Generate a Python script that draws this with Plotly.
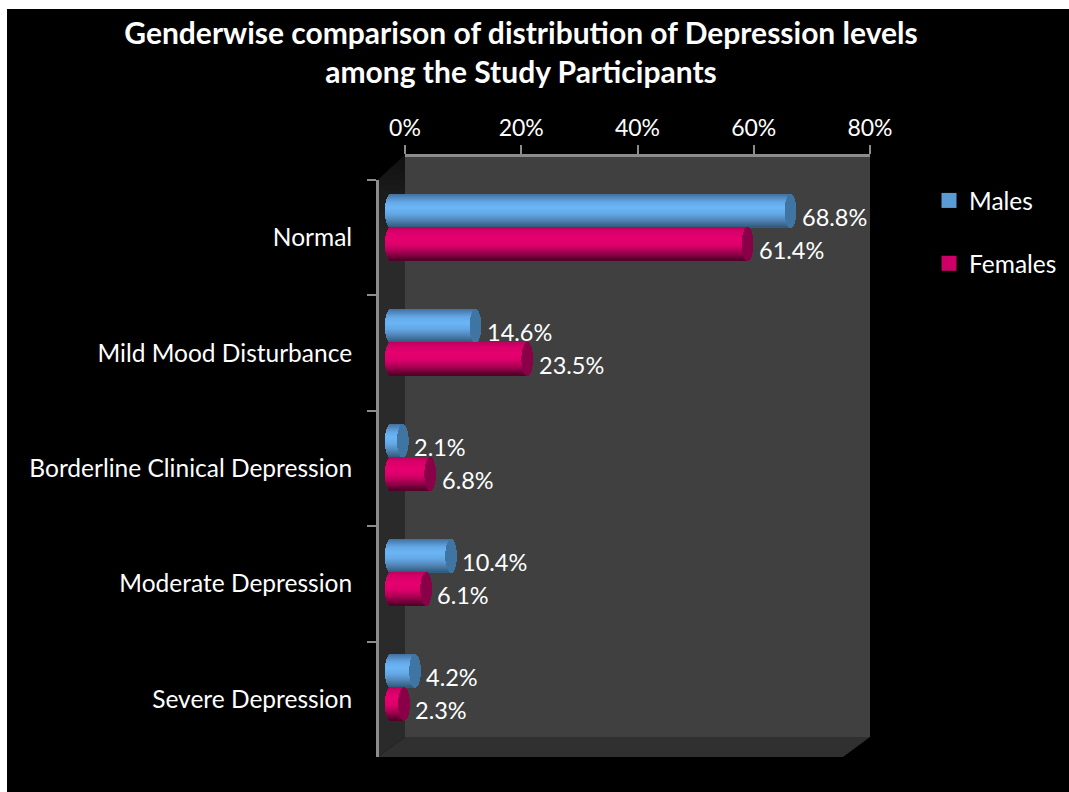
import plotly.graph_objects as go

W, H = 1069, 792

categories = ["Normal", "Mild Mood Disturbance", "Borderline Clinical Depression",
              "Moderate Depression", "Severe Depression"]
males = [68.8, 14.6, 2.1, 10.4, 4.2]
females = [61.4, 23.5, 6.8, 6.1, 2.3]
axis_ticks = [0, 20, 40, 60, 80]

FONT = "Lato"
GREY = "#8c8c8c"

# cylinder shading stops, top edge to bottom edge
male_stops = [(0.0, "#41719c"), (0.1, "#4f88bd"), (0.25, "#64a9e8"), (0.42, "#6cb5f5"),
              (0.6, "#64a8e6"), (0.78, "#5288bb"), (1.0, "#315a7c")]
female_stops = [(0.0, "#bb005c"), (0.12, "#d60069"), (0.35, "#e6006f"), (0.55, "#dc006b"),
                (0.75, "#a80052"), (0.9, "#74003a"), (1.0, "#4e0028")]
male_cap = "#3f75a3"
female_cap = "#8a0048"


def blend(stops, t):
    for (t0, c0), (t1, c1) in zip(stops, stops[1:]):
        if t <= t1:
            f = (t - t0) / (t1 - t0)
            rgb = [round(int(c0[i:i + 2], 16) * (1 - f) + int(c1[i:i + 2], 16) * f)
                   for i in (1, 3, 5)]
            return "rgb({},{},{})".format(*rgb)
    return stops[-1][1]


def px_x(p):
    return p / W


def px_y(p):
    return 1 - p / H


def poly(points, fill):
    d = "M" + " L".join(f"{px_x(x)},{px_y(y)}" for x, y in points) + " Z"
    return dict(type="path", xref="paper", yref="paper", path=d, fillcolor=fill,
                line_width=0, layer="below")


shapes = [
    # dark page area inside the white border
    dict(type="rect", xref="paper", yref="paper", x0=px_x(7), x1=1, y0=0, y1=px_y(9),
         fillcolor="#000000", line_width=0, layer="below"),
    # side wall, back wall and floor of the chart box
    poly([(378, 180), (405, 155), (405, 737), (378, 757)], "#2a2a2a"),
    poly([(405, 155), (870, 155), (870, 737), (405, 737)], "#404040"),
    poly([(405, 737), (870, 737), (843, 757), (378, 757)], "#303030"),
]


def wall_left(y):
    # left edge of the side wall, following its slanted top
    return 378 + max(0, 180 - y) * 27 / 25


# the side wall darkens towards its top edge
SHADE_TOP, SHADE_END, SHADE_STEP = 155, 240, 5
for y in range(SHADE_TOP, SHADE_END, SHADE_STEP):
    level = round(0x10 + (0x2a - 0x10) * (y - SHADE_TOP) / (SHADE_END - SHADE_TOP))
    y1 = y + SHADE_STEP + 0.3
    tone = f"rgb({level},{level},{level})"
    shapes.append(poly([(wall_left(y), y), (405, y), (405, y1), (wall_left(y1), y1)], tone))

fig = go.Figure()

CATEGORY_PX = 115
N_STRIPS = 33        # one-pixel strips per cylinder
CAP_RADIUS = 1.0     # end-cap half width, in percentage points
STRIP = 1 / CATEGORY_PX


def add_cylinders(values, stops, cap, first_offset):
    for i in range(N_STRIPS):
        u = (i + 0.5) / N_STRIPS
        r = CAP_RADIUS * (1 - (2 * u - 1) ** 2) ** 0.5
        fig.add_trace(go.Bar(
            y=categories, x=[v + r for v in values], base=[-r] * len(values),
            orientation="h", width=STRIP, offset=first_offset + i * STRIP,
            marker=dict(color=blend(stops, u), line_width=0),
            showlegend=False, hoverinfo="skip"))
    for i in range(N_STRIPS):
        u = (i + 0.5) / N_STRIPS
        r = CAP_RADIUS * (1 - (2 * u - 1) ** 2) ** 0.5
        fig.add_trace(go.Bar(
            y=categories, x=[2 * r] * len(values), base=[v - r for v in values],
            orientation="h", width=STRIP, offset=first_offset + i * STRIP,
            marker=dict(color=cap, line_width=0),
            showlegend=False, hoverinfo="skip"))


add_cylinders(males, male_stops, male_cap, -N_STRIPS * STRIP)
add_cylinders(females, female_stops, female_cap, 0.0)

# carries the outer axes (percent scale on top, category labels on the left)
fig.add_trace(go.Scatter(x=males, y=categories, xaxis="x2", yaxis="y2", mode="markers",
                         marker=dict(opacity=0), showlegend=False, hoverinfo="skip"))

# legend entries
fig.add_trace(go.Scatter(x=[None], y=[None], name="Males", mode="markers", legendgroup="m",
                         marker=dict(symbol="square", size=15, color="#5b9bd5")))
fig.add_trace(go.Scatter(x=[None], y=[None], name="Females", mode="markers", legendgroup="f",
                         marker=dict(symbol="square", size=15, color="#cc0066")))

annotations = []
for values, shift in ((males, -11), (females, 22)):
    for cat, v in zip(categories, values):
        annotations.append(dict(x=v, y=cat, xref="x", yref="y", text=f"{v:.1f}%",
                                showarrow=False, xanchor="left", yanchor="middle",
                                xshift=9, yshift=-shift,
                                font=dict(family=FONT, size=23.5, color="#ffffff")))

fig.update_layout(
    width=W, height=H, margin=dict(l=0, r=0, t=0, b=0, autoexpand=False),
    paper_bgcolor="#ffffff", plot_bgcolor="rgba(0,0,0,0)",
    barmode="overlay", bargap=0, shapes=shapes, annotations=annotations,
    title=dict(text="<b>Genderwise comparison of distribution of Depression levels<br>"
                    "among the Study Participants</b>",
               x=521 / W, xanchor="center", y=px_y(44), yanchor="middle",
               font=dict(family=FONT, size=30, color="#ffffff")),
    legend=dict(x=px_x(940), y=px_y(178), xanchor="left", yanchor="top",
                bgcolor="rgba(0,0,0,0)", tracegroupgap=28, itemwidth=30, indentation=-11,
                font=dict(family=FONT, size=24.5, color="#ffffff")),
    # 5.8125 px per percentage point; the lower bound leaves room for the rounded bar ends
    xaxis=dict(domain=[px_x(379.375), px_x(856)], range=[-2, 80], visible=False, anchor="y"),
    yaxis=dict(domain=[px_y(745), px_y(170)], type="category", categoryarray=categories,
               categoryorder="array", range=[4.5, -0.5], visible=False, anchor="x"),
    xaxis2=dict(domain=[px_x(405), px_x(870)], range=[0, 80], side="top", anchor="free",
                position=px_y(155), tickvals=axis_ticks,
                ticktext=[f"{t}%" for t in axis_ticks],
                ticks="outside", ticklen=9, tickwidth=2, tickcolor=GREY,
                showline=True, linecolor=GREY, linewidth=3, showgrid=False, zeroline=False,
                ticklabelstandoff=0,
                tickfont=dict(family=FONT, size=23, color="#ffffff")),
    yaxis2=dict(domain=[px_y(757), px_y(180)], type="category", categoryarray=categories,
                categoryorder="array", range=[4.5, -0.5], anchor="free", position=px_x(377),
                side="left", ticks="outside", ticklen=9, tickwidth=2, tickcolor=GREY,
                tickson="boundaries", showline=True, linecolor=GREY, linewidth=3,
                showgrid=False, zeroline=False, ticklabelstandoff=19,
                tickfont=dict(family=FONT, size=24.5, color="#ffffff")),
)

fig.write_html("out.html")
